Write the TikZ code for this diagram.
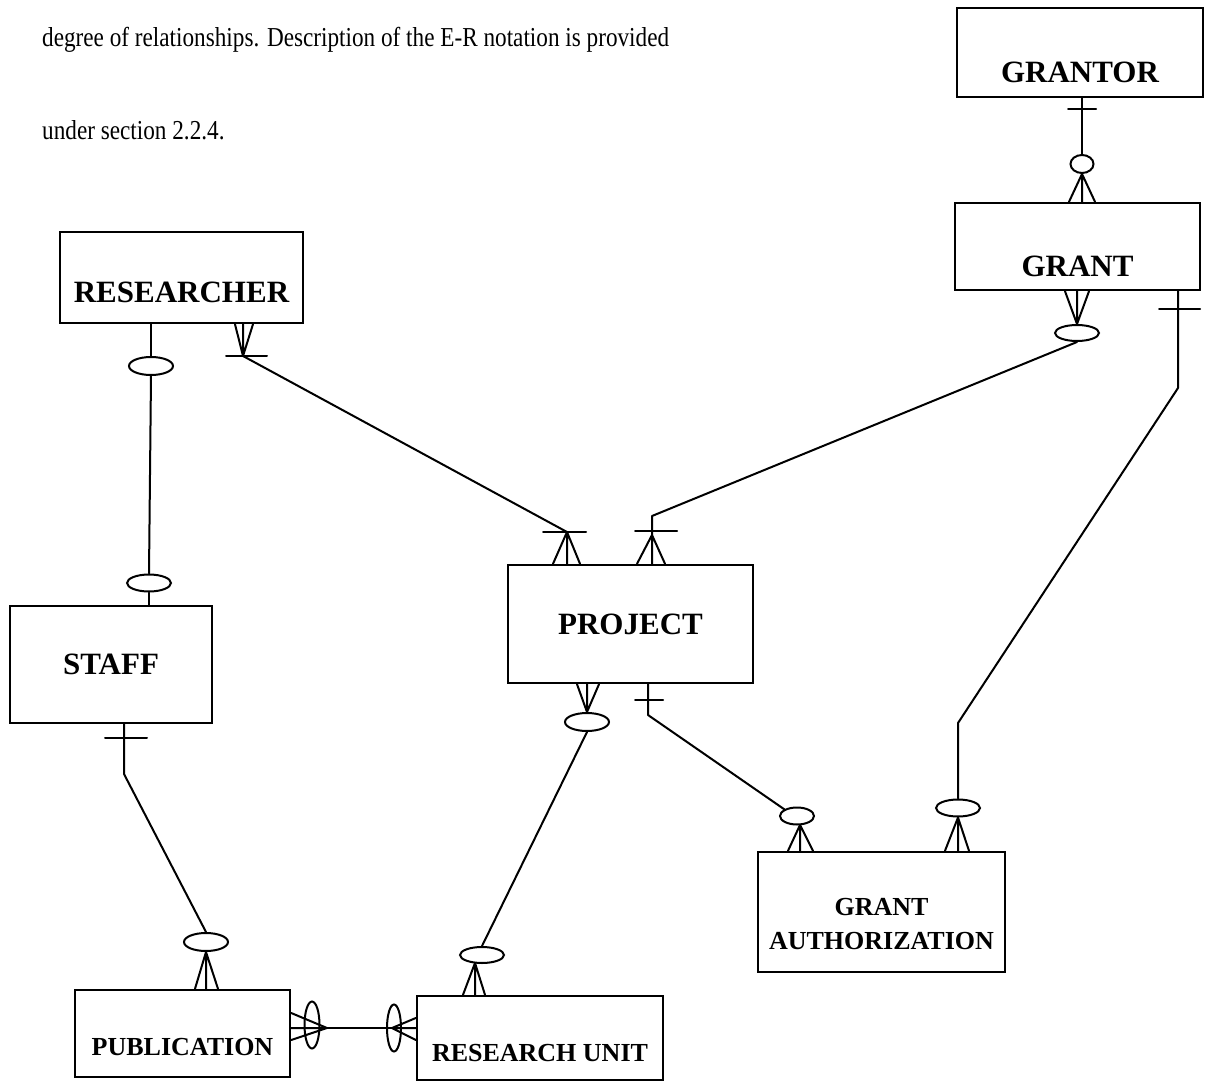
\documentclass[tikz,border=0pt]{standalone}
\usepackage{fontspec}
\usepackage{graphicx}
\setmainfont{Liberation Serif}
\usetikzlibrary{shapes.geometric, positioning, calc}
\tikzset{
  entity/.style={rectangle, draw=black, line width=2.4pt, inner sep=0pt, text depth=0pt, font=\bfseries\fontsize{31}{36}\selectfont},
  smallentity/.style={entity, font=\bfseries\fontsize{26}{34}\selectfont},
  opt/.style={ellipse, draw=black, line width=2pt, inner sep=0pt, minimum width=44pt, minimum height=18pt},
  link/.style={line width=2pt, line cap=round, line join=round},
  para/.style={anchor=base west, inner sep=0pt, font=\fontsize{23.2}{28}\selectfont}
}

\begin{document}
\begin{tikzpicture}[x=1pt, y=-1pt]
\useasboundingbox (0,0) rectangle (1207,1083);

\node[para] (line1) at (42,47) {\scalebox{1}[1.18]{degree of relationships. Description of the E-R notation is provided}};
\node[para] (line2) at (42,140) {\scalebox{1}[1.18]{under section 2.2.4.}};

% entities
\node[entity, minimum width=246pt, minimum height=89pt, text height=59.5pt] (grantor) at (1080,52.5) {GRANTOR};
\node[entity, minimum width=245pt, minimum height=87pt, text height=59.5pt] (grant) at (1077.5,246.5) {GRANT};
\node[entity, minimum width=243pt, minimum height=91pt, text height=49.5pt] (researcher) at (181.5,277.5) {RESEARCHER};
\node[entity, minimum width=245pt, minimum height=118pt, text height=20.5pt] (project) at (630.5,624) {PROJECT};
\node[entity, minimum width=202pt, minimum height=117pt, text height=20.5pt] (staff) at (111,664.5) {STAFF};
\node[smallentity, minimum width=215pt, minimum height=87pt, text height=44.2pt] (publication) at (182.5,1033.5) {PUBLICATION};
\node[smallentity, minimum width=246pt, minimum height=84pt, text height=47.2pt] (resunit) at (540,1038) {RESEARCH UNIT};
\node[smallentity, minimum width=247pt, minimum height=120pt, text height=75.2pt] (grantauth) at (881.5,912)
  {\begin{tabular}[b]{@{}c@{}}GRANT\\AUTHORIZATION\end{tabular}};

% grantor - grant
\node[opt, minimum width=23pt] (ograntor) at (1082,164) {};
\draw[link] (ograntor.north |- grantor.south) -- (ograntor.north);
\draw[link] ([xshift=-14pt,yshift=-11pt]ograntor.north |- grantor.south) -- ++(28,0);
\draw[link] (ograntor.south) -- ([xshift=-13pt]ograntor.south |- grant.north)
  (ograntor.south) -- (ograntor.south |- grant.north)
  (ograntor.south) -- ([xshift=13pt]ograntor.south |- grant.north);

% grant - project
\node[opt, minimum height=16pt] (ogrant) at (1077,333) {};
\coordinate (pbend2) at (652,516);
\coordinate (pfoot2) at (652,535);
\draw[link] (ogrant.north) -- ([xshift=-12pt]ogrant.north |- grant.south)
  (ogrant.north) -- (ogrant.north |- grant.south)
  (ogrant.north) -- ([xshift=12pt]ogrant.north |- grant.south);
\draw[link] (ogrant.south) -- (pbend2) -- (pfoot2);
\draw[link] ([xshift=-17pt,yshift=4pt]pfoot2) -- ++(42,0);
\draw[link] (pfoot2) -- ([xshift=-15pt]pfoot2 |- project.north)
  (pfoot2) -- (pfoot2 |- project.north)
  (pfoot2) -- ([xshift=13pt]pfoot2 |- project.north);

% researcher - project
\coordinate (rfoot) at (243,356);
\coordinate (pfoot1) at (567,532);
\draw[link] (rfoot) -- ([xshift=-8pt]rfoot |- researcher.south)
  (rfoot) -- (rfoot |- researcher.south)
  (rfoot) -- ([xshift=10pt]rfoot |- researcher.south);
\draw[link] ([xshift=-17pt]rfoot) -- ++(41,0);
\draw[link] (rfoot) -- (pfoot1);
\draw[link] ([xshift=-24pt]pfoot1) -- ++(43,0);
\draw[link] (pfoot1) -- ([xshift=-14pt]pfoot1 |- project.north)
  (pfoot1) -- (pfoot1 |- project.north)
  (pfoot1) -- ([xshift=13pt]pfoot1 |- project.north);

% researcher - staff
\node[opt] (oresearcher) at (151,366) {};
\node[opt, minimum height=17pt] (ostaff) at (149,583) {};
\draw[link] (oresearcher.north |- researcher.south) -- (oresearcher.north);
\draw[link] (oresearcher.south) -- (ostaff.north);
\draw[link] (ostaff.south) -- (ostaff.south |- staff.north);

% staff - publication
\coordinate (sbend) at (124,774);
\node[opt] (opub) at (206,942) {};
\draw[link] (sbend |- staff.south) -- (sbend) -- (opub.north);
\draw[link] ([xshift=-19pt,yshift=-14pt]sbend |- staff.south) -- ++(42,0);
\draw[link] (opub.south) -- ([xshift=-11pt]opub.south |- publication.north)
  (opub.south) -- (opub.south |- publication.north)
  (opub.south) -- ([xshift=12pt]opub.south |- publication.north);

% project - research unit
\node[opt] (oproject) at (587,722) {};
\node[opt, minimum height=16pt] (oresunit) at (482,955) {};
\coordinate (rufoot) at (475,963);
\draw[link] (oproject.north) -- ([xshift=-10pt]oproject.north |- project.south)
  (oproject.north) -- (oproject.north |- project.south)
  (oproject.north) -- ([xshift=12pt]oproject.north |- project.south);
\draw[link] (oproject.south) -- (oresunit.north);
\draw[link] (rufoot) -- ([xshift=-12pt]rufoot |- resunit.north)
  (rufoot) -- (rufoot |- resunit.north)
  (rufoot) -- ([xshift=10pt]rufoot |- resunit.north);

% project - grant authorization
\coordinate (pbend3) at (648,715);
\node[opt, minimum width=34pt, minimum height=17pt] (oga1) at (797,816) {};
\coordinate (gafoot1) at (800,825);
\draw[link] (pbend3 |- project.south) -- (pbend3) -- (oga1.north west);
\draw[link] ([xshift=-13pt,yshift=-16pt]pbend3 |- project.south) -- ++(28,0);
\draw[link] (gafoot1) -- ([xshift=-12pt]gafoot1 |- grantauth.north)
  (gafoot1) -- (gafoot1 |- grantauth.north)
  (gafoot1) -- ([xshift=13pt]gafoot1 |- grantauth.north);

% grant - grant authorization
\coordinate (gbend1) at (1178,388);
\coordinate (gbend2) at (958,723);
\node[opt, minimum height=17pt] (oga2) at (958,808) {};
\draw[link] (gbend1 |- grant.south) -- (gbend1) -- (gbend2) -- (oga2.north);
\draw[link] ([xshift=-19pt,yshift=-18pt]gbend1 |- grant.south) -- ++(41,0);
\draw[link] (oga2.south) -- ([xshift=-13pt]oga2.south |- grantauth.north)
  (oga2.south) -- (oga2.south |- grantauth.north)
  (oga2.south) -- ([xshift=11pt]oga2.south |- grantauth.north);

% publication - research unit
\coordinate (prfoot) at (327,1028);
\coordinate (rpfoot) at (392,1028);
\node[opt, minimum width=15pt, minimum height=47pt] (opubru) at (312,1025) {};
\node[opt, minimum width=14pt, minimum height=47pt] (orupub) at (394,1028) {};
\draw[link] (prfoot) -- (rpfoot);
\draw[link] (prfoot) -- ([yshift=15pt]prfoot -| publication.east)
  (prfoot) -- (prfoot -| publication.east)
  (prfoot) -- ([yshift=-12pt]prfoot -| publication.east);
\draw[link] (rpfoot) -- ([yshift=10pt]rpfoot -| resunit.west)
  (rpfoot) -- (rpfoot -| resunit.west)
  (rpfoot) -- ([yshift=-12pt]rpfoot -| resunit.west);
\end{tikzpicture}
\end{document}
